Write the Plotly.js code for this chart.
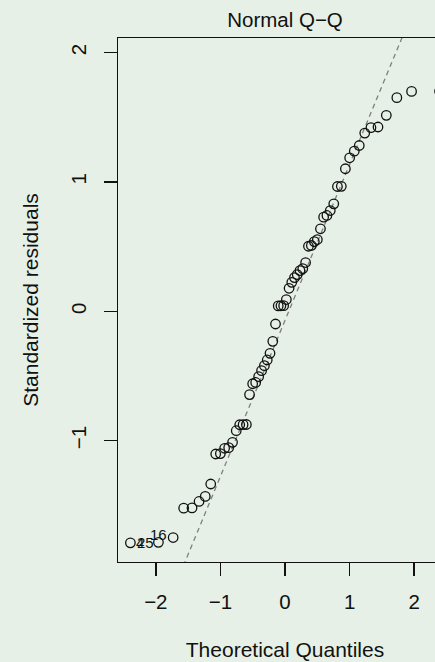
<!DOCTYPE html>
<html>
<head>
<meta charset="utf-8">
<script src="https://cdn.plot.ly/plotly-3.0.1.min.js"></script>
<style>
html,body{margin:0;padding:0;overflow:hidden;background:#e6f0e6;}
#chart{width:470px;height:662px;}
</style>
</head>
<body>
<div id="chart"></div>
<script>
// Theoretical normal quantiles (n = 60)
const theoreticalQuantiles = [
  -2.394, -1.960, -1.732, -1.569, -1.440, -1.331, -1.235, -1.150, -1.073, -1.001,
  -0.935, -0.872, -0.812, -0.755, -0.701, -0.649, -0.598, -0.549, -0.501, -0.454,
  -0.408, -0.363, -0.319, -0.275, -0.232, -0.189, -0.147, -0.105, -0.063, -0.021,
   0.021,  0.063,  0.105,  0.147,  0.189,  0.232,  0.275,  0.319,  0.363,  0.408,
   0.454,  0.501,  0.549,  0.598,  0.649,  0.701,  0.755,  0.812,  0.872,  0.935,
   1.001,  1.073,  1.150,  1.235,  1.331,  1.440,  1.569,  1.732,  1.960,  2.394
];
// Sorted standardized residuals
const standardizedResiduals = [
  -1.790, -1.786, -1.749, -1.522, -1.520, -1.470, -1.431, -1.335, -1.103, -1.100,
  -1.059, -1.054, -1.013, -0.923, -0.877, -0.876, -0.875, -0.644, -0.560, -0.550,
  -0.505, -0.459, -0.420, -0.376, -0.325, -0.232, -0.098,  0.042,  0.043,  0.044,
   0.091,  0.178,  0.224,  0.261,  0.284,  0.315,  0.330,  0.377,  0.503,  0.509,
   0.539,  0.555,  0.638,  0.728,  0.741,  0.779,  0.831,  0.965,  0.966,  1.102,
   1.187,  1.238,  1.282,  1.378,  1.420,  1.425,  1.515,  1.652,  1.700,  1.701
];
// Reference line (qqline)
const qqlineIntercept = -0.07;
const qqlineSlope = 1.206;
// Labelled extreme points
const labelIndex = [0, 1, 2];
const labelText = ["4", "25", "16"];
// Tick values
const xTicks = [-2, -1, 0, 1, 2];
const yTicks = [-1, 0, 1, 2];

const xRange = [-2.586, 2.586];
const yRange = [-1.938, 2.113];
const FONT = '"Liberation Sans", Arial, Helvetica, sans-serif';
const INK = '#111111';
const BG = '#e6f0e6';

const lineX = xRange.slice();
const lineY = lineX.map(x => qqlineIntercept + qqlineSlope * x);

const traces = [
  {
    x: lineX, y: lineY, type: 'scatter', mode: 'lines',
    line: {color: '#7f7f7f', width: 1.3, dash: '5px,4px'},
    hoverinfo: 'skip', showlegend: false
  },
  {
    x: theoreticalQuantiles, y: standardizedResiduals, type: 'scatter', mode: 'markers',
    marker: {symbol: 'circle-open', size: 9.5, color: INK, line: {width: 1.3, color: INK}},
    cliponaxis: false, showlegend: false
  }
];

const labelAnchor = ['left', 'right', 'right'];
const labelShiftX = [4, -2, -4];
const labelShiftY = [0, 0, 3];
const annotations = labelIndex.map((idx, k) => ({
  x: theoreticalQuantiles[idx], y: standardizedResiduals[idx],
  xref: 'x', yref: 'y', text: labelText[k], showarrow: false,
  xanchor: labelAnchor[k], yanchor: 'middle',
  xshift: labelShiftX[k], yshift: labelShiftY[k],
  font: {family: FONT, size: 15, color: INK}
}));

const axisCommon = {
  ticks: 'outside', ticklen: 13, tickwidth: 1.4, tickcolor: INK,
  showline: true, linewidth: 1.4, linecolor: INK, mirror: true,
  showgrid: false, zeroline: false,
  tickfont: {family: FONT, size: 20.5, color: INK}
};

const layout = {
  width: 470, height: 662,
  margin: {l: 118, r: 18, t: 38, b: 100},
  paper_bgcolor: BG, plot_bgcolor: BG,
  font: {family: FONT, color: INK},
  title: {text: 'Normal Q\u2212Q', font: {family: FONT, size: 20.5, color: INK},
          x: 0.5, xref: 'paper', xanchor: 'center', y: 1, yref: 'paper', yanchor: 'bottom', pad: {b: 11}},
  xaxis: Object.assign({}, axisCommon, {
    range: xRange, tickvals: xTicks, ticklabelstandoff: 8,
    title: {text: 'Theoretical Quantiles', font: {family: FONT, size: 21, color: INK}, standoff: 30}
  }),
  yaxis: Object.assign({}, axisCommon, {
    range: yRange, tickvals: yTicks, tickangle: -90, ticklabelstandoff: 9,
    title: {text: 'Standardized residuals', font: {family: FONT, size: 21, color: INK}, standoff: 23}
  }),
  annotations: annotations,
  showlegend: false
};

Plotly.newPlot('chart', traces, layout, {displayModeBar: false, staticPlot: true});
</script>
</body>
</html>
